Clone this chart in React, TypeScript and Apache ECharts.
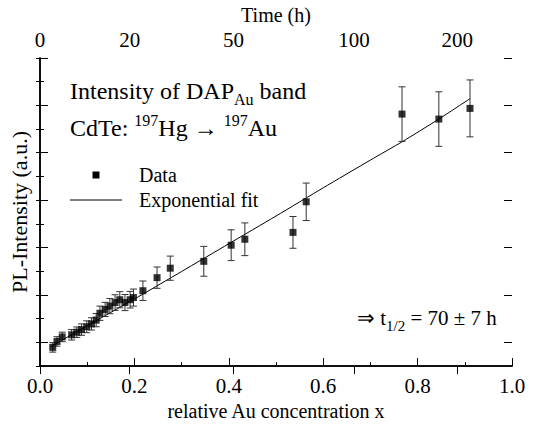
import React, { useEffect, useRef } from "react";
import * as echarts from "echarts";

// Measured data (relative Au concentration x, PL intensity in arbitrary units)
const concentration = [0.027, 0.036, 0.047, 0.067, 0.078, 0.088, 0.099, 0.109, 0.119, 0.127, 0.138, 0.148, 0.159, 0.169, 0.18, 0.191, 0.198, 0.218, 0.248, 0.276, 0.347, 0.405, 0.434, 0.536, 0.564, 0.767, 0.845, 0.911];
const intensity = [0.79, 1.04, 1.23, 1.32, 1.43, 1.54, 1.66, 1.78, 1.94, 2.23, 2.39, 2.53, 2.68, 2.8, 2.68, 2.8, 2.89, 3.18, 3.73, 4.13, 4.42, 5.1, 5.35, 5.64, 6.93, 10.63, 10.42, 10.87];
const errors = [0.2, 0.2, 0.2, 0.22, 0.22, 0.24, 0.25, 0.26, 0.28, 0.3, 0.3, 0.32, 0.33, 0.34, 0.34, 0.35, 0.36, 0.41, 0.45, 0.51, 0.63, 0.65, 0.69, 0.67, 0.79, 1.15, 1.15, 1.2];

// Exponential fit curve
const fitX = [0.022, 0.1, 0.2, 0.3, 0.4, 0.5, 0.6, 0.7, 0.767, 0.845, 0.911];
const fitY = [0.81, 1.7, 2.83, 3.99, 5.16, 6.33, 7.52, 8.69, 9.46, 10.42, 11.28];

// Top (time) axis
const timeTickLabels = ["0", "20", "50", "100", "200"];
const timeTickPositions = [0, 0.19, 0.41, 0.665, 0.884];

// Y axis ticks (no labels)
const yMajorTicks = [1, 3, 5, 7, 9, 11, 13];

const SERIF = '"Liberation Serif", "Times New Roman", serif';

export default function App() {
  const ref = useRef<HTMLDivElement>(null);
  useEffect(() => {
    const chart = echarts.init(ref.current!, null, { renderer: "svg" });
    const scatterData = concentration.map((x, i) => [x, intensity[i]]);
    const errData = concentration.map((x, i) => [x, intensity[i] - errors[i], intensity[i] + errors[i]]);
    const fitData = fitX.map((x, i) => [x, fitY[i]]);
    const black = "#000";
    const lineAxis = { show: true, lineStyle: { color: black, width: 1.5 } };
    const textStyle = { color: black, fontFamily: SERIF, fontSize: 20 };

    chart.setOption({
      animation: false,
      grid: { left: 40, right: 24, top: 55, bottom: 50 },
      xAxis: [
        {
          type: "value", position: "bottom", min: 0, max: 1, interval: 0.2,
          axisLine: lineAxis,
          axisTick: { inside: true, length: 8, lineStyle: { color: black } },
          axisLabel: { color: black, fontFamily: SERIF, fontSize: 21, margin: 9, formatter: (v: number) => v.toFixed(1) },
          splitLine: { show: false },
          name: "relative Au concentration x", nameLocation: "middle", nameGap: 27,
          nameTextStyle: textStyle,
        },
        {
          type: "value", position: "bottom", min: 0, max: 1, interval: 0.1,
          axisLine: { show: false },
          axisTick: { inside: true, length: 4, lineStyle: { color: black } },
          axisLabel: { show: false }, splitLine: { show: false },
        },
        {
          type: "value", position: "top", min: 0, max: 1,
          axisLine: lineAxis,
          axisTick: { inside: true, length: 8, customValues: timeTickPositions, lineStyle: { color: black } },
          axisLabel: {
            customValues: timeTickPositions, color: black, fontFamily: SERIF, fontSize: 21, margin: 7,
            formatter: (v: number) => {
              let best = 0;
              timeTickPositions.forEach((p, i) => { if (Math.abs(p - v) < Math.abs(timeTickPositions[best] - v)) best = i; });
              return timeTickLabels[best];
            },
          },
          splitLine: { show: false },
          name: "Time (h)", nameLocation: "middle", nameGap: 28, nameTextStyle: textStyle,
        },
      ],
      yAxis: [
        {
          type: "value", position: "left", min: 0, max: 13, interval: 1,
          axisLine: lineAxis,
          axisTick: { inside: true, length: 4, lineStyle: { color: black } },
          axisLabel: { show: false }, splitLine: { show: false },
          name: "PL-Intensity (a.u.)", nameLocation: "middle", nameGap: 10, nameRotate: 90,
          nameTextStyle: { color: black, fontFamily: SERIF, fontSize: 22 },
        },
        {
          type: "value", position: "left", min: 0, max: 13,
          axisLine: { show: false },
          axisTick: { inside: true, length: 8, customValues: yMajorTicks, lineStyle: { color: black } },
          axisLabel: { show: false }, splitLine: { show: false },
        },
        {
          type: "value", position: "right", min: 0, max: 13, interval: 1,
          axisLine: lineAxis,
          axisTick: { inside: true, length: 4, lineStyle: { color: black } },
          axisLabel: { show: false }, splitLine: { show: false },
        },
        {
          type: "value", position: "right", min: 0, max: 13,
          axisLine: { show: false },
          axisTick: { inside: true, length: 8, customValues: yMajorTicks, lineStyle: { color: black } },
          axisLabel: { show: false }, splitLine: { show: false },
        },
      ],
      series: [
        {
          type: "line", xAxisIndex: 0, yAxisIndex: 0, data: fitData,
          showSymbol: false, smooth: 0.2, lineStyle: { color: black, width: 1 }, z: 2,
        },
        {
          type: "custom", xAxisIndex: 0, yAxisIndex: 0, data: errData,
          encode: { x: 0, y: [1, 2] }, z: 3,
          renderItem: (params: any, api: any) => {
            const x = api.value(0);
            const p1 = api.coord([x, api.value(1)]);
            const p2 = api.coord([x, api.value(2)]);
            const w = 3.5;
            const st = { stroke: "#333", lineWidth: 1 };
            return {
              type: "group",
              children: [
                { type: "line", shape: { x1: p1[0], y1: p1[1], x2: p2[0], y2: p2[1] }, style: st },
                { type: "line", shape: { x1: p1[0] - w, y1: p1[1], x2: p1[0] + w, y2: p1[1] }, style: st },
                { type: "line", shape: { x1: p2[0] - w, y1: p2[1], x2: p2[0] + w, y2: p2[1] }, style: st },
              ],
            };
          },
        },
        {
          type: "scatter", xAxisIndex: 0, yAxisIndex: 0, data: scatterData,
          symbol: "rect", symbolSize: 7, itemStyle: { color: black }, z: 4,
        },
      ],
      graphic: [
        {
          type: "text", x: 70, y: 91,
          style: {
            text: "{n|Intensity of DAP}{s|Au}{n| band}",
            verticalAlign: "middle", fill: black,
            rich: {
              n: { font: `24px ${SERIF}`, fill: black, lineHeight: 32 },
              s: { font: `16px ${SERIF}`, fill: black, lineHeight: 16, verticalAlign: "bottom" },
            },
          },
        },
        {
          type: "text", x: 70, y: 128,
          style: {
            text: "{n|CdTe: }{p|197}{n|Hg \u2192 }{p|197}{n|Au}",
            verticalAlign: "middle", fill: black,
            rich: {
              n: { font: `24px ${SERIF}`, fill: black, lineHeight: 32 },
              p: { font: `16px ${SERIF}`, fill: black, lineHeight: 16, verticalAlign: "top" },
            },
          },
        },
        { type: "rect", shape: { x: 92.5, y: 171.5, width: 7, height: 7 }, style: { fill: black } },
        { type: "text", x: 139, y: 175, style: { text: "Data", font: `20px ${SERIF}`, fill: black, verticalAlign: "middle" } },
        { type: "line", shape: { x1: 70, y1: 200, x2: 122, y2: 200 }, style: { stroke: black, lineWidth: 1 } },
        { type: "text", x: 139, y: 200, style: { text: "Exponential fit", font: `20px ${SERIF}`, fill: black, verticalAlign: "middle" } },
        {
          type: "text", x: 357, y: 318,
          style: {
            text: "{n|\u21D2 t}{s|1/2}{n| = 70 \u00B1 7 h}",
            verticalAlign: "middle", fill: black,
            rich: {
              n: { font: `21px ${SERIF}`, fill: black, lineHeight: 30 },
              s: { font: `15px ${SERIF}`, fill: black, lineHeight: 15, verticalAlign: "bottom" },
            },
          },
        },
      ],
    });
    return () => chart.dispose();
  }, []);
  return <div ref={ref} style={{ position: "fixed", left: 0, top: 0, width: 536, height: 426, background: "#fff" }} />;
}
